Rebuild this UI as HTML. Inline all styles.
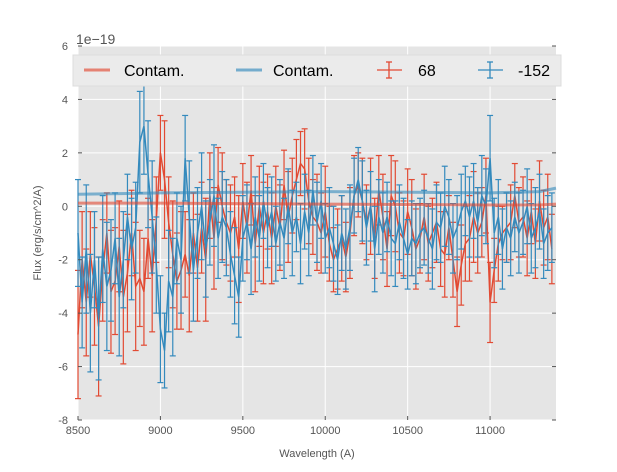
<!DOCTYPE html>
<html><head><meta charset="utf-8"><style>
body{margin:0;background:#fff;font-family:"Liberation Sans",sans-serif}
svg text{font-family:"Liberation Sans",sans-serif}
</style></head><body>
<svg id="chart" width="617" height="467" xmlns="http://www.w3.org/2000/svg">
<rect x="78" y="46" width="478" height="374" fill="#e5e5e5"/>
<g id="grid"></g><g id="series"></g><g id="axes"></g>
<text x="76" y="44" font-size="14" fill="#555">1e−19</text>
<text x="317" y="457" font-size="11" fill="#555" text-anchor="middle">Wavelength (A)</text>
<text transform="translate(41,233) rotate(-90)" font-size="11" fill="#555" text-anchor="middle">Flux (erg/s/cm^2/A)</text>
<g>
<rect x="73" y="55" width="488" height="31" fill="#ebebeb" stroke="#ddd"/>
<line x1="84" y1="70" x2="110" y2="70" stroke="#E24A33" stroke-opacity="0.65" stroke-width="3"/>
<text x="124" y="76" font-size="16" fill="#000">Contam.</text>
<line x1="236" y1="70" x2="262" y2="70" stroke="#348ABD" stroke-opacity="0.65" stroke-width="3"/>
<text x="273" y="76" font-size="16" fill="#000">Contam.</text>
<g stroke="#E24A33" stroke-width="1.3"><line x1="377" y1="70" x2="402" y2="70"/><line x1="389" y1="62" x2="389" y2="78"/><line x1="386" y1="62" x2="392" y2="62"/><line x1="386" y1="78" x2="392" y2="78"/></g>
<text x="418" y="76" font-size="16" fill="#000">68</text>
<g stroke="#348ABD" stroke-width="1.3"><line x1="478" y1="70" x2="503" y2="70"/><line x1="490" y1="62" x2="490" y2="78"/><line x1="487" y1="62" x2="493" y2="62"/><line x1="487" y1="78" x2="493" y2="78"/></g>
<text x="518" y="76" font-size="16" fill="#000">-152</text>
</g>
</svg>
<script>
const xTicks=[8500,9000,9500,10000,10500,11000];
const yTicks=[6,4,2,0,-2,-4,-6,-8];
const redY=[-4.8,-2.0,-3.6,-1.8,-3.0,-4.5,-2.4,-1.0,-3.2,-2.8,-1.5,-3.4,
-2.5,-1.0,-3.0,-2.7,-3.2,-1.2,-2.6,-0.5,2.0,1.0,-0.6,-1.8,
-2.8,-2.4,-1.8,-2.6,-1.0,-2.3,-0.8,-2.0,0.4,-1.2,0.8,0.0,
-0.6,-1.0,-0.4,-1.6,0.2,-0.8,0.6,-1.4,0.0,-1.0,-0.2,-1.2,
0.0,-0.8,0.8,-0.4,0.4,1.0,1.6,1.4,0.2,-0.4,-0.6,-1.0,
-0.2,-1.4,-2.0,-1.6,-1.2,-1.9,-1.0,0.4,0.8,0.2,-0.6,0.0,
-1.2,0.6,-0.4,-1.6,0.4,0.0,-1.0,-1.2,-0.2,-0.8,-1.6,-1.2,
-0.4,-1.4,-1.0,-0.6,-1.6,-1.8,-0.8,-2.0,-3.2,-2.2,-1.4,-1.2,
-0.4,-1.0,-0.6,0.4,-3.6,-2.4,-1.4,-1.0,-0.8,-0.6,0.4,-0.6,
-0.4,-1.2,-0.2,-1.4,0.2,-0.8,-0.4,-1.6];
const blueY=[-1.0,-3.6,-1.6,-4.0,-2.0,-4.2,-1.6,-3.0,-2.4,-1.2,-3.4,-2.0,
-0.4,-1.6,-0.8,2.4,3.0,1.2,-0.4,-2.2,-4.6,-5.4,-2.8,-3.4,
-1.2,-2.0,1.8,-0.4,-2.4,-1.0,0.0,-1.6,-0.6,0.4,-1.2,-0.4,
-0.8,-1.8,-2.6,-3.4,-1.2,-0.6,-1.6,-0.4,-1.2,0.2,-0.8,-0.2,
-1.4,-0.6,-1.2,0.0,-1.0,-0.4,-1.4,-0.2,-1.0,0.6,-0.6,0.2,
-1.2,-0.8,-1.4,-2.0,-1.0,-1.6,-0.8,0.4,1.0,0.2,-0.8,0.0,
-1.6,-0.4,-1.0,-0.4,-1.2,-1.4,-0.6,-1.2,-1.8,-1.2,-1.4,-1.0,
-0.8,-1.2,-1.6,-0.6,-0.8,0.0,-0.4,-1.2,-0.8,-0.2,0.2,-0.4,
0.2,-0.6,0.4,0.0,1.8,-1.0,-0.4,-1.6,-0.8,-1.2,-0.4,-1.0,
-0.6,0.0,-1.2,-0.8,-0.2,-1.4,-1.0,-0.8];
const redErr=[2.4,1.8,2.0,1.6,2.2,2.6,1.9,1.5,2.3,2.0,1.7,2.5,2.2,1.6,2.4,1.8,2.0,1.5,2.1,1.6,1.4,2.2,1.7,2.0,1.8,2.2,1.6,2.1,1.5,2.0,1.7,2.3,1.6,1.9,1.4,2.0,1.6,1.8,1.5,2.0,1.4,1.7,1.3,1.8,1.5,1.9,1.4,1.7,1.5,1.6,1.3,1.7,1.4,1.5,1.2,1.5,1.6,1.4,1.8,1.5,1.7,1.4,1.2,1.5,1.6,1.3,1.7,1.5,1.2,1.6,1.4,1.8,1.5,1.3,1.6,1.4,1.5,1.7,1.5,1.4,1.6,1.8,1.5,1.3,1.6,1.4,1.3,1.5,1.4,1.6,1.2,1.4,1.3,1.5,1.4,1.6,1.7,1.5,1.3,1.4,1.5,1.2,1.4,1.0,1.3,1.4,1.2,1.3,1.5,1.4,1.2,1.3,1.5,1.4,1.6,1.3];
const blueErr=[2.0,1.7,2.4,2.2,1.8,2.3,2.0,2.4,1.9,1.7,2.2,1.8,1.6,1.9,1.7,1.9,1.8,2.0,2.1,1.8,2.0,1.4,1.9,2.2,1.7,2.0,1.6,2.1,1.9,1.7,2.0,1.8,1.6,1.9,1.5,1.7,1.8,1.6,1.8,1.5,1.6,1.4,1.7,1.5,1.6,1.4,1.5,1.3,1.4,1.6,1.5,1.4,1.6,1.3,1.5,1.4,1.6,1.3,1.5,1.4,1.3,1.5,1.4,1.3,1.4,1.5,1.6,1.4,1.2,1.5,1.4,1.3,1.6,1.4,1.5,1.3,1.4,1.6,1.4,1.5,1.3,1.4,1.5,1.3,1.4,1.3,1.5,1.4,1.3,1.5,1.4,1.3,1.2,1.4,1.3,1.5,1.4,1.3,1.5,1.4,1.6,1.3,1.4,1.5,1.3,1.4,1.3,1.5,1.2,1.4,1.3,1.5,1.4,1.3,1.4,1.3];
const waveStart=8500, waveStep=25;
const contamX=[8500,9000,10000,11000,11300,11400];
const contamRed=[0.12,0.12,0.08,0.05,0.05,0.08];
const contamBlue=[0.45,0.5,0.55,0.5,0.55,0.68];

const NS='http://www.w3.org/2000/svg';
const X0=78,X1=556,Y0=46,Y1=420,xmin=8500,xmax=11400,ymin=-8,ymax=6;
const sx=v=>X0+(v-xmin)/(xmax-xmin)*(X1-X0);
const sy=v=>Y1-(v-ymin)/(ymax-ymin)*(Y1-Y0);
function mk(tag,attrs,parent){const e=document.createElementNS(NS,tag);for(const k in attrs)e.setAttribute(k,attrs[k]);parent.appendChild(e);return e;}
const grid=document.getElementById('grid'),axes=document.getElementById('axes'),ser=document.getElementById('series');
xTicks.forEach(t=>{
  const l=mk('line',{x1:sx(t),x2:sx(t),y1:Y0,y2:Y1,stroke:'#fff','stroke-width':1},grid);
  
  
  const tk=mk('line',{x1:sx(t),x2:sx(t),y1:Y1,y2:Y1-4,stroke:'#555'},axes);
  
  
  const tx=mk('text',{x:sx(t),y:Y1+14,'font-size':11,fill:'#555','text-anchor':'middle'},axes);
  tx.textContent=t;
  
  
});
yTicks.forEach(t=>{
  const l=mk('line',{x1:X0,x2:X1,y1:sy(t),y2:sy(t),stroke:'#fff','stroke-width':1},grid);
  
  
  mk('line',{x1:X0,x2:X0+4,y1:sy(t),y2:sy(t),stroke:'#555'},axes);
  mk('line',{x1:X1,x2:X1-4,y1:sy(t),y2:sy(t),stroke:'#555'},axes);
  const tx=mk('text',{x:X0-10,y:sy(t)+4,'font-size':11,fill:'#555','text-anchor':'end'},axes);
  tx.textContent=t;
  
  
});
function contam(ys,color,name){
  const p=mk('polyline',{points:contamX.map((x,i)=>sx(x)+','+sy(ys[i])).join(' '),fill:'none',stroke:color,'stroke-opacity':0.6,'stroke-width':3},ser);
  
  
}
function errSeries(ys,errs,color,name){
  const g=mk('g',{stroke:color,'stroke-width':1.2,fill:'none'},ser);
  
  
  ys.forEach((y,i)=>{
    const x=sx(waveStart+i*waveStep);
    const a=sy(y+errs[i]),b=sy(y-errs[i]);
    mk('line',{x1:x,x2:x,y1:a,y2:b},g);
    mk('line',{x1:x-3,x2:x+3,y1:a,y2:a},g);
    mk('line',{x1:x-3,x2:x+3,y1:b,y2:b},g);
  });
  mk('polyline',{points:ys.map((y,i)=>sx(waveStart+i*waveStep)+','+sy(y)).join(' '),'stroke-width':1.5},g);
}
errSeries(redY,redErr,'#E24A33','series-68');
errSeries(blueY,blueErr,'#348ABD','series-minus-152');
contam(contamRed,'#E24A33','contam-line-red');
contam(contamBlue,'#348ABD','contam-line-blue');
</script>
</body></html>
